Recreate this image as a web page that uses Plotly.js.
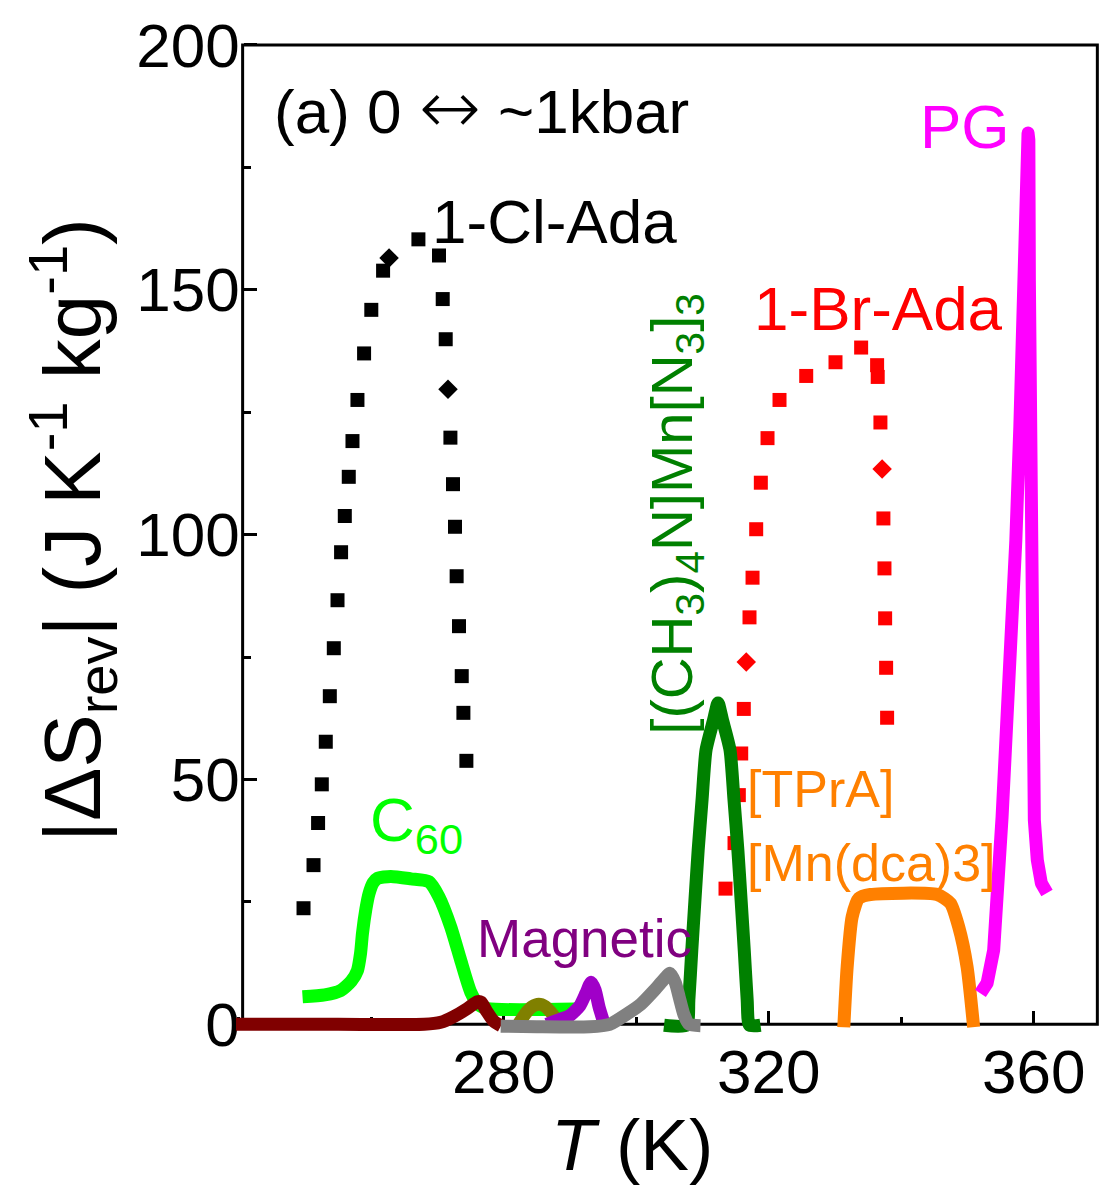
<!DOCTYPE html>
<html>
<head>
<meta charset="utf-8">
<script src="https://cdn.plot.ly/plotly-3.0.1.min.js"></script>
<style>
  html, body { margin: 0; padding: 0; background: #fff; }
  #chart { width: 1101px; height: 1191px; }
</style>
</head>
<body>
<div id="chart"></div>
<script>
// 1-Cl-Ada (squares and diamonds)
const clAdaT = [249.79, 251.30, 251.99, 252.55, 253.15, 253.76, 254.36, 254.92, 255.46, 256.02,
                256.62, 257.18, 257.93, 258.93, 260.02, 261.80, 267.13, 270.24, 270.80, 271.25,
                271.96, 272.35, 272.65, 272.90, 273.26, 273.67, 273.92, 274.37];
const clAdaS = [23.7, 32.5, 41.1, 49.0, 57.7, 67.0, 76.8, 86.6, 96.4, 103.8,
                111.8, 119.1, 127.5, 137.0, 145.9, 153.9, 160.3, 157.0, 148.1, 139.9,
                119.8, 110.3, 101.6, 91.5, 81.3, 71.1, 63.6, 53.8];
const clAdaDiamondT = [262.70, 271.60];
const clAdaDiamondS = [156.5, 129.7];

// 1-Br-Ada (squares and diamonds)
const brAdaT = [313.48, 314.84, 315.49, 315.85, 316.24, 317.10, 317.56, 318.11, 318.81, 319.82,
                321.63, 325.66, 330.08, 333.95, 336.36, 336.45, 336.86, 337.31, 337.47, 337.57,
                337.72, 337.87];
const brAdaS = [27.7, 37.0, 46.8, 55.3, 64.4, 83.1, 91.2, 101.1, 110.6, 119.7,
                127.5, 132.4, 135.2, 138.2, 134.6, 132.2, 122.9, 103.3, 93.1, 82.9,
                72.8, 62.6];
const brAdaDiamondT = [316.61, 337.12];
const brAdaDiamondS = [74.0, 113.4];

// C60
const c60T = [249.64, 253.0, 255.41, 257.0, 257.93, 258.4, 258.69, 259.2, 259.68, 260.3,
              260.95, 262.96, 266.0, 268.73, 270.24, 272.01, 273.51, 275.02, 276.2, 277.54, 290.86];
const c60S = [5.6, 6.0, 6.9, 8.8, 11.0, 14.5, 18.6, 23.5, 26.7, 28.9,
              29.8, 30.2, 29.7, 29.1, 26.0, 19.9, 13.1, 6.6, 4.0, 3.2, 3.1];

// Brown baseline curve
const brownT = [239.0, 255.0, 268.0, 270.5, 272.5, 274.5, 276.0, 276.6, 277.5, 278.5, 279.6];
const brownS = [0, 0, 0, 0.4, 1.6, 3.2, 4.6, 4.5, 2.5, 0.6, -0.3];

// Olive bump
const oliveT = [282.0, 283.3, 284.3, 285.3, 286.3, 287.1, 288.1, 289.3];
const oliveS = [-0.5, 2.2, 3.6, 4.1, 3.6, 2.5, 0.8, 0];

// Magnetic (violet)
const magT = [286.5, 288.1, 290.0, 291.5, 292.4, 293.2, 293.8, 294.4, 295.1];
const magS = [0, 0.8, 1.8, 3.8, 6.3, 8.6, 7.0, 3.5, 0.4];

// Grey curve
const greyT = [279.55, 285.0, 293.0, 296.0, 298.7, 300.7, 302.7, 304.0, 305.1, 305.9, 306.5, 307.2, 308.0, 309.7];
const greyS = [-0.4, -0.5, -0.5, 0, 2.2, 4.1, 6.9, 8.9, 10.4, 8.5, 5.5, 2.0, 0, -0.3];

// [(CH3)4N]Mn[N3]3
const tmaT = [304.2, 307.6, 307.95, 308.39, 308.85, 309.35, 309.95, 310.54, 311.65, 312.35,
              313.05, 314.16, 314.75, 315.35, 315.85, 316.31, 316.75, 317.1, 318.76];
const tmaS = [-0.2, -0.2, 5.0, 15.1, 25.0, 35.5, 46.0, 56.0, 62.0, 65.6,
              62.0, 56.0, 46.0, 35.5, 25.0, 15.1, 5.0, -0.2, -0.2];

// [TPrA][Mn(dca)3]
const tpraT = [331.33, 331.84, 332.59, 333.59, 335.35, 345.41, 347.42, 348.67, 349.94, 350.93];
const tpraS = [-0.6, 11.7, 21.9, 25.7, 26.5, 26.5, 24.7, 19.9, 11.7, -0.6];

// PG
const pgT = [351.95, 352.96, 353.95, 354.71, 355.22, 355.72, 356.17, 356.62, 357.30, 357.90,
             358.28, 358.66, 358.88, 359.03, 359.14, 359.26, 359.34, 359.49, 359.49, 359.79,
             360.09, 360.54, 361.15, 362.0];
const pgS = [6.3, 8.4, 15.1, 28.8, 42.3, 56.0, 66.2, 76.4, 98.9, 122.0,
             137.7, 152.0, 168.3, 180.6, 182.0, 180.6, 152.0, 122.0, 76.4, 56.0,
             41.7, 33.5, 28.8, 26.8];

const xRange = [239.6, 370.0];
const yRange = [-2.6, 200.6];
const xTicks = [280, 320, 360];
const frameX = [240.6, 369.6];
const frameY = [0, 200];

const LW = 13;
function curve(x, y, color, shape) {
  return { x, y, type: 'scatter', mode: 'lines', hoverinfo: 'skip',
           line: { color, width: LW, shape: shape || 'spline', smoothing: 0.6 } };
}
function pts(x, y, color, symbol, size) {
  return { x, y, type: 'scatter', mode: 'markers', hoverinfo: 'skip',
           marker: { color, symbol, size, line: { width: 0 } } };
}

const traces = [
  pts(clAdaT, clAdaS, '#000000', 'square', 14),
  pts(clAdaDiamondT, clAdaDiamondS, '#000000', 'diamond', 15),
  pts(brAdaT, brAdaS, '#ff0000', 'square', 14),
  pts(brAdaDiamondT, brAdaDiamondS, '#ff0000', 'diamond', 15),
  curve(c60T, c60S, '#00ff00'),
  curve(oliveT, oliveS, '#808000'),
  curve(magT, magS, '#a000c8'),
  curve(brownT, brownS, '#800000'),
  curve(tmaT, tmaS, '#008000'),
  curve(greyT, greyS, '#808080'),
  curve(tpraT, tpraS, '#ff8000'),
  curve(pgT, pgS, '#ff00ff', 'linear')
];

const FONT = 'Liberation Sans, Arial, Helvetica, sans-serif';
const ann = (text, x, y, color, size, extra) => Object.assign({
  text, x, y, xref: 'x', yref: 'y', showarrow: false, xanchor: 'left', yanchor: 'middle',
  font: { family: FONT, size, color }
}, extra || {});

const layout = {
  width: 1101, height: 1191,
  margin: { l: 236, r: 1.4, t: 42, b: 154 },
  paper_bgcolor: '#ffffff', plot_bgcolor: '#ffffff',
  showlegend: false,
  font: { family: FONT, color: '#000000' },
  xaxis: {
    range: xRange, anchor: 'free', position: 2.6 / 203.2,
    showline: false, showgrid: false, zeroline: false,
    ticks: 'inside', ticklen: 13, tickwidth: 3, tickcolor: '#000000',
    tickmode: 'array', tickvals: xTicks, ticklabelstandoff: 6,
    minor: { tick0: 260, dtick: 20, ticks: 'inside', ticklen: 7, tickwidth: 3, tickcolor: '#000000' },
    tickfont: { family: FONT, size: 62, color: '#000000' },
    layer: 'below traces'
  },
  yaxis: {
    range: yRange, anchor: 'free', position: 1 / 130.4,
    showline: false, showgrid: false, zeroline: false,
    ticks: 'inside', ticklen: 13, tickwidth: 3, tickcolor: '#000000',
    tick0: 0, dtick: 50, ticklabelstandoff: 3,
    minor: { tick0: 0, dtick: 25, ticks: 'inside', ticklen: 7, tickwidth: 3, tickcolor: '#000000' },
    tickfont: { family: FONT, size: 62, color: '#000000' },
    layer: 'below traces'
  },
  shapes: [{
    type: 'rect', xref: 'x', yref: 'y',
    x0: frameX[0], x1: frameX[1], y0: frameY[0], y1: frameY[1],
    line: { color: '#000000', width: 3 }, fillcolor: 'rgba(0,0,0,0)', layer: 'below'
  }],
  annotations: [
    // axis titles
    { text: '<i>T</i> (K)', xref: 'paper', yref: 'paper', x: 0.4585, y: -0.1085,
      xanchor: 'center', yanchor: 'middle', showarrow: false,
      font: { family: FONT, size: 73, color: '#000000' } },
    { text: '|ΔS<sub>rev</sub>| (J K<sup>-1</sup> kg<sup>-1</sup>)', xref: 'paper', yref: 'paper',
      x: -0.1900, y: 0.5095, xanchor: 'center', yanchor: 'middle', textangle: -90, showarrow: false,
      font: { family: FONT, size: 80, color: '#000000' } },
    // labels
    ann('(a) 0 <span style="font-family:DejaVu Sans;font-weight:200;font-size:74px">↔</span> ~1kbar', 245.04, 187.3, '#000000', 62),
    ann('1-Cl-Ada', 268.89, 164.0, '#000000', 62),
    ann('1-Br-Ada', 317.51, 146.2, '#ff0000', 62),
    ann('PG', 342.58, 183.3, '#ff00ff', 62),
    ann('C<sub>60</sub>', 259.53, 41.0, '#00ff00', 62),
    ann('Magnetic', 275.69, 17.5, '#800080', 53),
    ann('[TPrA]', 316.45, 48.0, '#ff8000', 52),
    ann('[Mn(dca)3]', 316.45, 33.0, '#ff8000', 52),
    ann('[(CH<sub>3</sub>)<sub>4</sub>N]Mn[N<sub>3</sub>]<sub>3</sub>', 305.88, 104.3, '#008000', 58,
        { xanchor: 'center', yanchor: 'middle', textangle: -90 })
  ]
};

Plotly.newPlot('chart', traces, layout, { staticPlot: true }).then(gd => {
  gd.querySelectorAll('.scatterlayer path.js-line').forEach(p => {
    p.style.strokeLinejoin = 'round';
  });
});
</script>
</body>
</html>
